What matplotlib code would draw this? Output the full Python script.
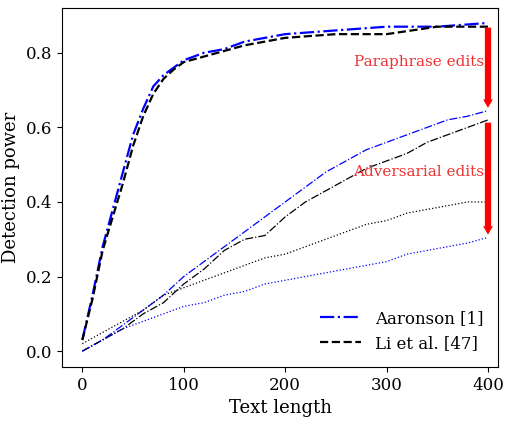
import matplotlib
matplotlib.use("Agg")
import matplotlib.pyplot as plt

plt.rcParams['font.family'] = ['DejaVu Serif']
plt.rcParams['mathtext.fontset'] = 'cm'

x_top = [0,10,20,30,40,50,60,70,80,90,100,120,140,160,180,200,250,300,350,400]
blue_top = [0.03,0.15,0.28,0.38,0.48,0.58,0.65,0.71,0.74,0.76,0.78,0.80,0.81,0.83,0.84,0.85,0.86,0.87,0.87,0.88]
black_top = [0.03,0.14,0.27,0.36,0.45,0.55,0.63,0.69,0.73,0.755,0.775,0.79,0.805,0.82,0.83,0.84,0.85,0.85,0.87,0.87]

x = list(range(0, 401, 20))
blue_mid = [0.0,0.03,0.07,0.11,0.15,0.20,0.24,0.28,0.32,0.36,0.40,0.44,0.48,0.51,0.54,0.56,0.58,0.60,0.62,0.63,0.645]
black_mid = [0.0,0.03,0.06,0.10,0.13,0.18,0.22,0.27,0.30,0.31,0.36,0.40,0.43,0.46,0.49,0.51,0.53,0.56,0.58,0.60,0.62]
black_dot = [0.02,0.05,0.08,0.11,0.15,0.17,0.19,0.21,0.23,0.25,0.26,0.28,0.30,0.32,0.34,0.35,0.37,0.38,0.39,0.40,0.40]
blue_dot = [0.0,0.03,0.06,0.08,0.10,0.12,0.13,0.15,0.16,0.18,0.19,0.20,0.21,0.22,0.23,0.24,0.26,0.27,0.28,0.29,0.305]

fig = plt.figure(figsize=(5.13, 4.23), dpi=100)
ax = fig.add_axes([0.121, 0.132, 0.85, 0.849])
ax.plot(x_top, blue_top, color='blue', ls='-.', lw=1.6, label='Aaronson [1]')
ax.plot(x_top, black_top, color='black', ls='--', lw=1.6, label='Li et al. [47]')
ax.plot(x, blue_mid, color='blue', ls='-.', lw=0.9)
ax.plot(x, black_mid, color='black', ls='-.', lw=0.9)
ax.plot(x, black_dot, color='black', ls=':', lw=0.9)
ax.plot(x, blue_dot, color='blue', ls=':', lw=0.9)

for y0, y1 in [(0.875, 0.645), (0.62, 0.305)]:
    ax.annotate('', xy=(400, y1), xytext=(400, y0),
                arrowprops=dict(arrowstyle='simple,head_width=0.7,head_length=0.6,tail_width=0.45', color='red', lw=0))
ax.text(396, 0.775, 'Paraphrase edits', color='#ee3333', ha='right', va='center', fontsize=11)
ax.text(396, 0.48, 'Adversarial edits', color='#ee3333', ha='right', va='center', fontsize=11)

ax.set_xlim(-20, 410)
ax.set_ylim(-0.043, 0.92)
ax.set_xticks([0,100,200,300,400])
ax.set_yticks([0.0,0.2,0.4,0.6,0.8])
ax.tick_params(labelsize=12)
ax.set_xlabel('Text length', fontsize=13)
ax.set_ylabel('Detection power', fontsize=13)
ax.legend(loc='lower right', fontsize=12, frameon=False, handlelength=2.5)
fig.savefig('out.png', dpi=100)
